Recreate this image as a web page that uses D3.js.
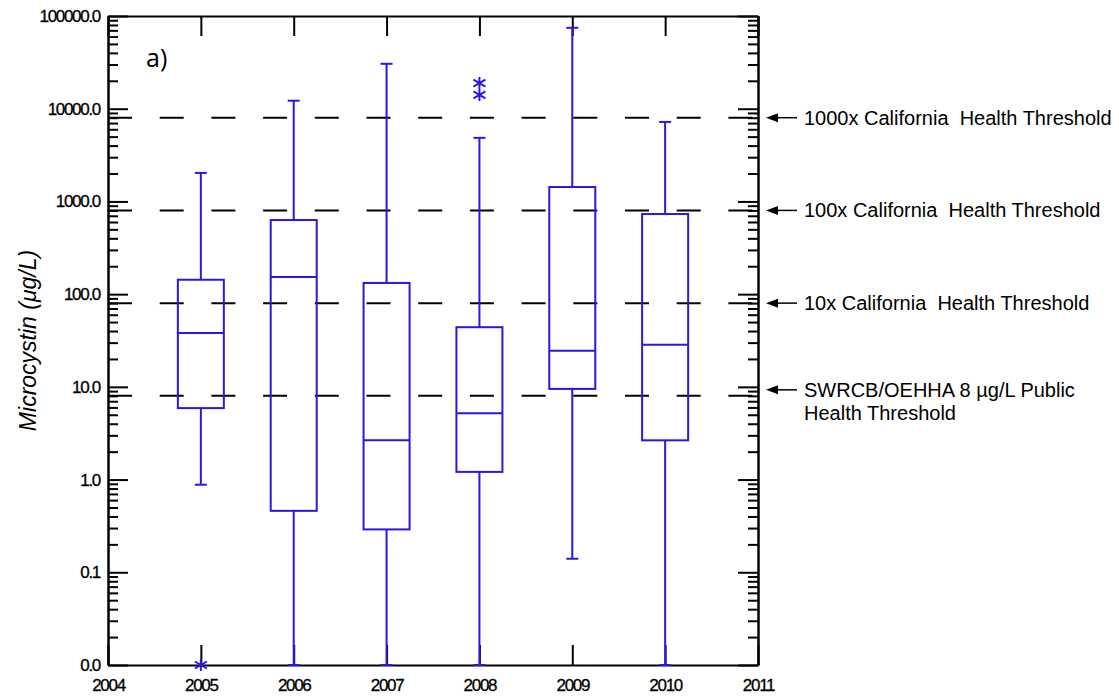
<!DOCTYPE html>
<html>
<head>
<meta charset="utf-8">
<script src="https://cdn.jsdelivr.net/npm/d3@7"></script>
<style>
  html, body { margin: 0; padding: 0; background: #fff; }
  svg { display: block; font-family: "Liberation Sans", Arial, sans-serif; }
</style>
</head>
<body>
<svg id="chart" width="1119" height="698"></svg>
<script>
// ---- data ----
const years        = [2005, 2006, 2007, 2008, 2009, 2010];
const whiskerLow   = [0.88, 0.01, 0.01, 0.01, 0.14, 0.01];
const q1           = [5.9, 0.46, 0.29, 1.21, 9.5, 2.65];
const median       = [38, 153, 2.65, 5.2, 24.5, 28.4];
const q3           = [143, 630, 132, 44, 1430, 731];
const whiskerHigh  = [2030, 12200, 30500, 4850, 74600, 7200];
const outlierYears = [2005, 2008, 2008];
const outlierVals  = [0.01, 14100, 18900];

const yTickValues  = [100000, 10000, 1000, 100, 10, 1, 0.1, 0.01];
const yTickLabels  = ["100000.0", "10000.0", "1000.0", "100.0", "10.0", "1.0", "0.1", "0.0"];
const xTickValues  = [2004, 2005, 2006, 2007, 2008, 2009, 2010, 2011];

const thresholds      = [8000, 800, 80, 8];
const thresholdLabels = [
  ["1000x California  Health Threshold"],
  ["100x California  Health Threshold"],
  ["10x California  Health Threshold"],
  ["SWRCB/OEHHA 8 \u00b5g/L Public", "Health Threshold"]
];

const panelLabel = "a)";
const yTitle = "Microcystin (\u03bcg/L)";

// ---- layout ----
const L = 108, R = 758, T = 16, B = 665;
const blue = "#2a17e4";

const svg = d3.select("#chart");
const x = d3.scaleLinear().domain([2004, 2011]).range([L, R]);
const y = d3.scaleLog().domain([0.01, 100000]).range([B, T]);

// minor ticks 2..9 in each decade
const minorTicks = [];
for (let e = -2; e < 5; e++) {
  for (let m = 2; m <= 9; m++) minorTicks.push(m * Math.pow(10, e));
}

function styleAxis(g) {
  g.selectAll("path.domain").attr("stroke", "#000").attr("stroke-width", 2);
  g.selectAll(".tick line").attr("stroke", "#000").attr("stroke-width", 2);
}

// threshold dashed lines (under boxes)
svg.append("g").selectAll("line").data(thresholds).join("line")
  .attr("x1", L).attr("x2", R)
  .attr("y1", d => y(d)).attr("y2", d => y(d))
  .attr("stroke", "#000").attr("stroke-width", 2)
  .attr("stroke-dasharray", "24,27.7");

// left axis
const gl = svg.append("g").attr("transform", `translate(${L},0)`)
  .call(d3.axisLeft(y).tickValues(yTickValues).tickSize(-20).tickSizeOuter(0).tickPadding(8)
    .tickFormat((d, i) => yTickLabels[i]));
styleAxis(gl);
gl.selectAll(".tick text").attr("font-size", 17).attr("fill", "#000")
  .attr("letter-spacing", "-1.3px").attr("stroke", "#000").attr("stroke-width", 0.3)
  .attr("font-family", "Liberation Sans, Arial, sans-serif");
const glm = svg.append("g").attr("transform", `translate(${L},0)`)
  .call(d3.axisLeft(y).tickValues(minorTicks).tickSize(-10).tickSizeOuter(0).tickFormat(""));
styleAxis(glm);

// right axis
const gr = svg.append("g").attr("transform", `translate(${R},0)`)
  .call(d3.axisRight(y).tickValues(yTickValues).tickSize(-20).tickSizeOuter(0).tickFormat(""));
styleAxis(gr);
const grm = svg.append("g").attr("transform", `translate(${R},0)`)
  .call(d3.axisRight(y).tickValues(minorTicks).tickSize(-10).tickSizeOuter(0).tickFormat(""));
styleAxis(grm);

// bottom axis
const gb = svg.append("g").attr("transform", `translate(0,${B})`)
  .call(d3.axisBottom(x).tickValues(xTickValues).tickSize(-20).tickSizeOuter(0).tickPadding(14)
    .tickFormat(d3.format("d")));
styleAxis(gb);
gb.selectAll(".tick text").attr("font-size", 17).attr("fill", "#000")
  .attr("letter-spacing", "-1.3px").attr("stroke", "#000").attr("stroke-width", 0.3)
  .attr("font-family", "Liberation Sans, Arial, sans-serif");

// top axis
const gt = svg.append("g").attr("transform", `translate(0,${T})`)
  .call(d3.axisTop(x).tickValues(xTickValues).tickSize(-20).tickSizeOuter(0).tickFormat(""));
styleAxis(gt);

// boxes
const boxHalf = 23, capHalf = 6;
const boxes = years.map((yr, i) => ({
  yr, lo: whiskerLow[i], q1: q1[i], med: median[i], q3: q3[i], hi: whiskerHigh[i]
}));
const gbx = svg.append("g").attr("stroke", blue).attr("stroke-width", 2).attr("fill", "none");
const bg = gbx.selectAll("g").data(boxes).join("g");
// whiskers
bg.append("line").attr("x1", d => x(d.yr)).attr("x2", d => x(d.yr))
  .attr("y1", d => y(d.q3)).attr("y2", d => y(d.hi));
bg.append("line").attr("x1", d => x(d.yr)).attr("x2", d => x(d.yr))
  .attr("y1", d => y(d.q1)).attr("y2", d => y(d.lo));
// caps
bg.append("line").attr("x1", d => x(d.yr) - capHalf).attr("x2", d => x(d.yr) + capHalf)
  .attr("y1", d => y(d.hi)).attr("y2", d => y(d.hi));
bg.append("line").attr("x1", d => x(d.yr) - capHalf).attr("x2", d => x(d.yr) + capHalf)
  .attr("y1", d => y(d.lo)).attr("y2", d => y(d.lo));
// box
bg.append("rect").attr("x", d => x(d.yr) - boxHalf).attr("width", boxHalf * 2)
  .attr("y", d => y(d.q3)).attr("height", d => y(d.q1) - y(d.q3));
// median
bg.append("line").attr("x1", d => x(d.yr) - boxHalf).attr("x2", d => x(d.yr) + boxHalf)
  .attr("y1", d => y(d.med)).attr("y2", d => y(d.med));

// outliers (asterisks)
const outliers = outlierYears.map((yr, i) => ({ yr, v: outlierVals[i] }));
const og = svg.append("g").attr("stroke", blue).attr("stroke-width", 2).attr("fill", "none");
og.selectAll("path").data(outliers).join("path")
  .attr("transform", d => `translate(${x(d.yr)},${y(d.v)})`)
  .attr("d", "M0,-6V6M-6,-3.5L6,3.5M-6,3.5L6,-3.5");

// panel label
svg.append("text").attr("x", 146).attr("y", 67).attr("font-size", 25)
  .attr("font-family", "Open Sans, Liberation Sans, Arial, sans-serif")
  .attr("fill", "#000").text(panelLabel);

// y title
svg.append("text")
  .attr("transform", `translate(36,${(T + B) / 2}) rotate(-90)`)
  .attr("text-anchor", "middle").attr("font-size", 23).attr("font-style", "italic")
  .attr("fill", "#000").text(yTitle);

// threshold annotations
const ann = svg.append("g");
thresholds.forEach((t, i) => {
  const lines = thresholdLabels[i];
  const cy = y(t) - (lines.length > 1 ? 6 : 0);
  ann.append("line").attr("x1", 797).attr("x2", 774).attr("y1", cy).attr("y2", cy)
    .attr("stroke", "#000").attr("stroke-width", 1.5);
  ann.append("path")
    .attr("d", `M766,${cy}L778,${cy - 4.5}L778,${cy + 4.5}Z`).attr("fill", "#000");
  const tx = ann.append("text").attr("x", 804).attr("y", cy)
    .attr("font-size", 20).attr("fill", "#000").style("white-space", "pre");
  lines.forEach((ln, j) => {
    tx.append("tspan").attr("x", 804).attr("dy", j === 0 ? "0.35em" : "1.15em").text(ln);
  });
});
</script>
</body>
</html>
